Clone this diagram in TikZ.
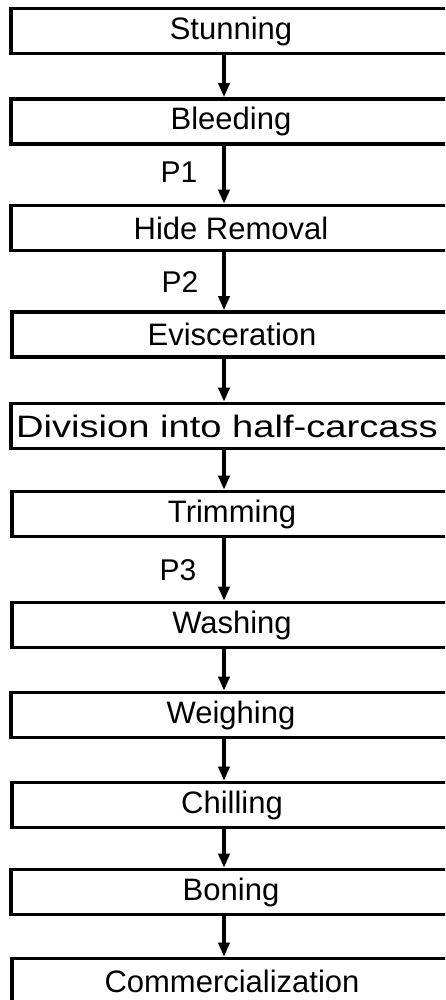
\documentclass[tikz,border=0pt]{standalone}
\usepackage{fontspec}
\setmainfont{Liberation Sans}
\usetikzlibrary{arrows.meta}
\begin{document}
\begin{tikzpicture}[x=1pt,y=-1pt,
  stepbox/.style={draw=black,line width=3.6pt,minimum width=440pt,minimum height=45pt,inner sep=0pt,
    font=\fontsize{31}{34}\selectfont,anchor=center},
  flow/.style={line width=4pt,-{Triangle[width=11pt,length=14pt]}},
  plabel/.style={font=\fontsize{30}{33}\selectfont,anchor=center}]
\useasboundingbox (0,0) rectangle (445,1000);
\clip (0,0) rectangle (445,1000);
\node[stepbox] (b1) at (231,31) {Stunning};
\node[stepbox] (b2) at (231,121.5) {Bleeding};
\node[stepbox] (b3) at (231,228) {Hide Removal};
\node[stepbox] (b4) at (232,334.5) {Evisceration};
\node[stepbox] (b5) at (231,426) {\hspace*{-8pt}\scalebox{1.23}[1]{Division into half-carcass}};
\node[stepbox] (b6) at (232,514) {Trimming};
\node[stepbox] (b7) at (232,625) {Washing};
\node[stepbox] (b8) at (231,715) {Weighing};
\node[stepbox] (b9) at (232,805) {Chilling};
\node[stepbox] (b10) at (231,892) {Boning};
\node[stepbox] (b11) at (232,981) {Commercialization};
\foreach \a/\b in {b1/b2,b2/b3,b3/b4,b4/b5,b5/b6,b6/b7,b7/b8,b8/b9,b9/b10,b10/b11}
  \draw[flow] (\a.south -| 224,0) -- (\b.north -| 224,0);
\node[plabel] (p1) at (179,172) {P1};
\node[plabel] (p2) at (180,282) {P2};
\node[plabel] (p3) at (178,570) {P3};
\end{tikzpicture}
\end{document}
